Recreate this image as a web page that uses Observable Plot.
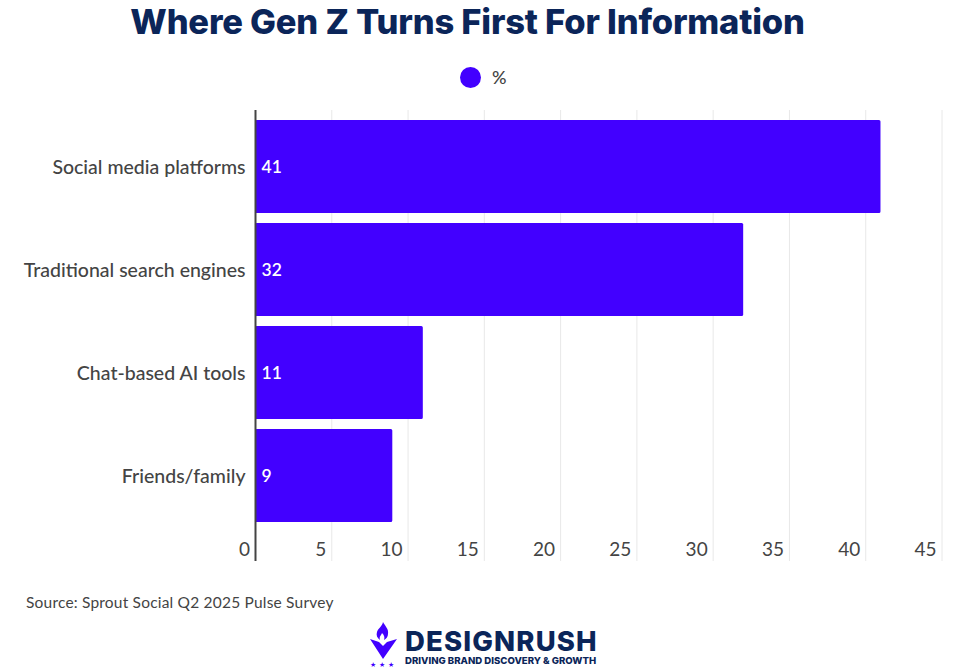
<!DOCTYPE html>
<html><head><meta charset="utf-8">
<script src="https://cdn.jsdelivr.net/npm/d3@7"></script>
<script src="https://cdn.jsdelivr.net/npm/@observablehq/plot@0.6"></script>
<style>
html,body{margin:0;padding:0;background:#fff;overflow:hidden}
body{width:966px;height:668px;position:relative;font-family:Lato,"Open Sans",sans-serif;color:#444}
#title{position:absolute;left:0;width:935px;top:-1px;text-align:center;font:800 34.5px/46px Inter,sans-serif;letter-spacing:-.2px;color:#0b2559}
#legend{position:absolute;top:66px;left:460px;display:flex;align-items:center;gap:11px;font:500 18px/22px Lato,sans-serif;color:#444}
#legend i{display:block;width:21px;height:21px;border-radius:50%;background:#4200ff}
#chart{position:absolute;top:95px;left:0}
#source{position:absolute;left:26px;top:593px;font:400 15.5px/18px Lato,sans-serif;color:#444;letter-spacing:.2px}
#logo{position:absolute;left:368px;top:620px;width:34px;height:48px}
#brand{position:absolute;left:405px;top:629px;font:800 27.5px/24px Inter,sans-serif;letter-spacing:1.15px;color:#0b2559;white-space:nowrap}
#tag{position:absolute;left:405px;top:655px;font:800 9.6px/11px Inter,sans-serif;color:#0b2559;white-space:nowrap}
</style></head><body>
<div id="title">Where Gen Z Turns First For Information</div>
<div id="legend"><i></i><span>%</span></div>
<div id="chart"></div>
<div id="source">Source: Sprout Social Q2 2025 Pulse Survey</div>
<svg id="logo" viewBox="0 0 34 48">
<path d="M15 2c2 4 6 7 5 12 0 3-2 5-4 6 1-3 0-5-2-7-1 3-3 3-2 7-3-2-4-5-3-8 1-4 5-5 6-10z" fill="#4200ff"/>
<path d="M2 19l9 3 4 4 4-4 10-3-14 20z" fill="#4200ff"/>
<g fill="#4200ff" font-size="7" font-family="DejaVu Sans"><text x="2" y="47">★</text><text x="11" y="47">★</text><text x="20" y="47">★</text></g>
</svg>
<div id="brand">DESIGNRUSH</div>
<div id="tag">DRIVING BRAND DISCOVERY &amp; GROWTH</div>
<script>
const categories = ["Social media platforms","Traditional search engines","Chat-based AI tools","Friends/family"];
const values = [41,32,11,9];
const xTicks = [0,5,10,15,20,25,30,35,40,45];
const rows = categories.map((c,i)=>({c,v:values[i]}));
const ink = "#444444", violet = "#4200ff";
const plot = Plot.plot({
  width:966, height:480,
  marginTop:15, marginBottom:14, marginLeft:255, marginRight:24.5,
  style:{fontFamily:"Lato, sans-serif",background:"transparent",color:ink},
  x:{domain:[0,45],ticks:xTicks},
  y:{domain:categories,range:[20,432],paddingInner:0.097,paddingOuter:0.0485,round:false},
  marks:[
    Plot.ruleX(xTicks.slice(1),{stroke:"#e8e8e8",strokeWidth:1}),
    Plot.barX(rows,{x:"v",y:"c",fill:violet,r:1.5}),
    Plot.ruleX([0],{stroke:ink,strokeWidth:2}),
    Plot.text(rows,{x:0,y:"c",text:d=>String(d.v),textAnchor:"start",dx:6,fill:"#fff",fontSize:17.5,fontWeight:600}),
    Plot.axisY({label:null,tickSize:0,tickPadding:10,dy:0.5,fontSize:19.5,fontWeight:500,fill:ink}),
    Plot.axisX({anchor:"bottom",label:null,tickSize:0,ticks:xTicks,textAnchor:"end",dx:-5.5,dy:-28,fontSize:19,fill:ink})
  ]
});
document.getElementById("chart").appendChild(plot);
</script>
</body></html>
